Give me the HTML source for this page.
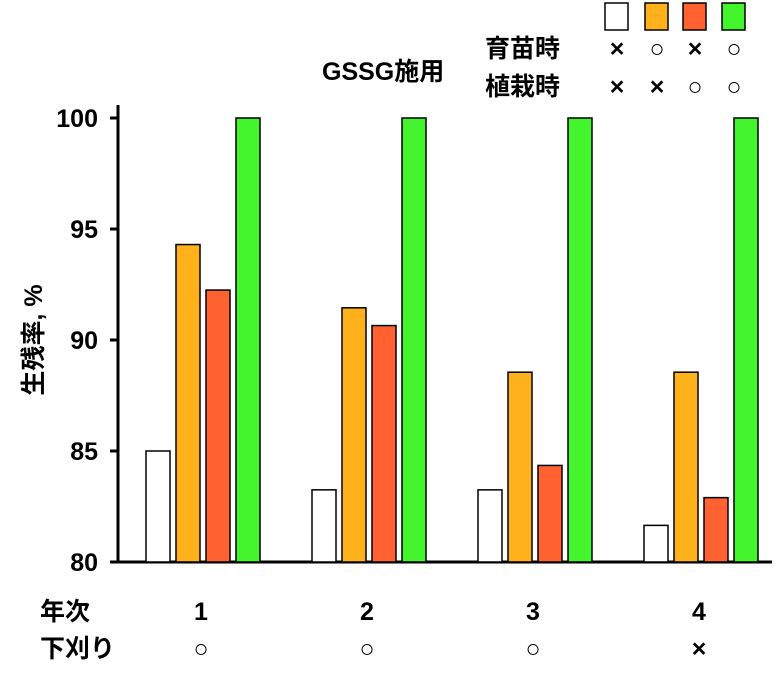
<!DOCTYPE html>
<html><head><meta charset="utf-8"><style>
body{margin:0;background:#fff;}
svg text{font-family:"Liberation Sans","Noto Sans CJK JP",sans-serif;font-weight:bold;fill:#000;}
</style></head><body>
<svg width="777" height="677" viewBox="0 0 777 677" xmlns="http://www.w3.org/2000/svg">
<g id="axes"></g><g id="bars"></g><g id="labels"></g>
</svg>
<script>
const categories=["1","2","3","4"];
const mowing=["○","○","○","×"];
const seriesWhite=[85.0,83.25,83.25,81.65];
const seriesOrange=[94.3,91.45,88.55,88.55];
const seriesRed=[92.25,90.65,84.35,82.9];
const seriesGreen=[100,100,100,100];
const yTicks=[80,85,90,95,100];
const colors=["#ffffff","#ffb11c","#ff6130","#44f42c"];
const NS="http://www.w3.org/2000/svg";
function y(v){return 562-(v-80)*22.2;}
function gx(i){return 146+i*166;}
function mk(tag,attrs,parent,txt){const e=document.createElementNS(NS,tag);for(const k in attrs)e.setAttribute(k,attrs[k]);if(txt!==undefined)e.textContent=txt;document.getElementById(parent).appendChild(e);return e;}
let ax=mk('line',{x1:118,y1:105,x2:118,y2:563,stroke:'#000','stroke-width':3},'axes');

let bx=mk('line',{x1:117,y1:562,x2:772,y2:562,stroke:'#000','stroke-width':3},'axes');

yTicks.forEach(t=>{
 let l=mk('line',{x1:110,y1:y(t),x2:118,y2:y(t),stroke:'#000','stroke-width':3},'axes');
 
 let tx=mk('text',{x:98,y:y(t)+9,'text-anchor':'end','font-size':25},'labels',String(t));
 
});
const series=[seriesWhite,seriesOrange,seriesRed,seriesGreen];
categories.forEach((c,i)=>{
 series.forEach((s,j)=>{
  let r=mk('rect',{x:gx(i)+j*30,y:y(s[i]),width:24,height:562-y(s[i]),fill:colors[j],stroke:'#000','stroke-width':1.5},'bars');
  
 });
 let t=mk('text',{x:gx(i)+55,y:620,'text-anchor':'middle','font-size':25},'labels',c);
 
 let m=mk('text',{x:gx(i)+55,y:657,'text-anchor':'middle','font-size':25,'font-weight':'normal'},'labels',mowing[i]);
 
});
// legend
const legX=[605,645,683,722];
const row1=["×","○","×","○"],row2=["×","×","○","○"];
legX.forEach((x,j)=>{
 let r=mk('rect',{x:x,y:3,width:23,height:27,fill:colors[j],stroke:'#000','stroke-width':1.5},'labels');
 
 let a=mk('text',{x:x+12,y:57,'text-anchor':'middle','font-size':25,'font-weight':'normal'},'labels',row1[j]);
 
 let b=mk('text',{x:x+12,y:95,'text-anchor':'middle','font-size':25,'font-weight':'normal'},'labels',row2[j]);
 
});
[["育苗時",485,57,'legend-row-seedling'],["植栽時",485,95,'legend-row-planting'],["GSSG施用",322,80,'legend-title'],["年次",40,620,'x-axis-title'],["下刈り",40,657,'mowing-title']].forEach(d=>{
 let t=mk('text',{x:d[1],y:d[2],'font-size':25},'labels',d[0]);
 
});
let yt=mk('text',{x:0,y:0,'font-size':25,'text-anchor':'middle',transform:'translate(42,340) rotate(-90)'},'labels','生残率, %');

</script>
</body></html>
